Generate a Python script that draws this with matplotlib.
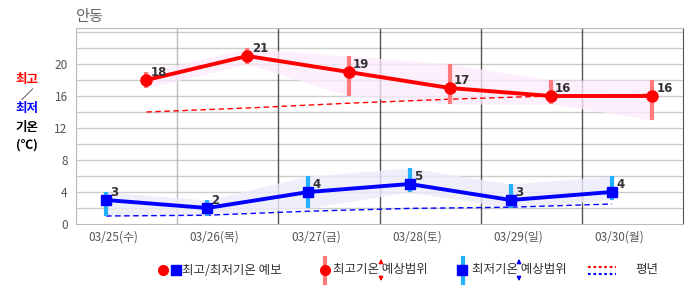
import matplotlib
matplotlib.use('Agg')
import matplotlib.pyplot as plt
import numpy as np

plt.rcParams['font.family'] = ['Noto Sans CJK KR', 'DejaVu Sans']

# 데이터
days = ['03/25(수)', '03/26(목)', '03/27(금)', '03/28(토)', '03/29(일)', '03/30(월)']
t_max = [18, 21, 19, 17, 16, 16]
t_max_lo = [17, 20, 16, 15, 15, 13]
t_max_hi = [19, 22, 21, 20, 18, 18]
t_min = [3, 2, 4, 5, 3, 4]
t_min_lo = [1, 1, 2, 4, 2, 3]
t_min_hi = [4, 3, 6, 7, 5, 6]
norm_max = [14.0, 14.5, 15.1, 15.6, 16.0, 16.2]
norm_min = [1.0, 1.1, 1.6, 1.95, 2.1, 2.5]

RED = '#ff0000'
BLUE = '#0000ff'
RED_BAR = '#ff7b7b'
BLUE_BAR = '#22b0ff'
GRAY_TXT = '#555555'

fig = plt.figure(figsize=(6.86, 2.95), dpi=100)
ax = fig.add_axes([76 / 686, 1 - 224 / 295, 607 / 686, 196 / 295])

idx = np.arange(len(days))
xr = idx + 0.695   # 최고기온 위치
xb = idx + 0.297   # 최저기온 위치

# 격자
for v in np.arange(2, 24.1, 2):
    ax.axhline(v, color='#cccccc', lw=1, zorder=0)
ax.axvline(1, color='#bbbbbb', lw=1, zorder=0)
for v in range(2, 6):
    ax.axvline(v, color='#555555', lw=1, zorder=0)

# 예상범위 음영
ax.fill_between(xr, t_max_lo, t_max_hi, color='#fdeafb', alpha=0.75, lw=0, zorder=1)
ax.fill_between(xb, t_min_lo, t_min_hi, color='#ebebfc', alpha=0.8, lw=0, zorder=1)

# 평년
ax.plot(xr, norm_max, color=RED, lw=1, ls=(0, (4, 2.5)), zorder=2)
ax.plot(xb, norm_min, color=BLUE, lw=1, ls=(0, (4, 2.5)), zorder=2)

# 예상범위 막대
ax.vlines(xr, t_max_lo, t_max_hi, color=RED_BAR, lw=3, zorder=3)
ax.vlines(xb, t_min_lo, t_min_hi, color=BLUE_BAR, lw=3, zorder=3)

# 예보선
ax.plot(xr, t_max, color=RED, lw=2.8, marker='o', ms=8, zorder=4)
ax.plot(xb, t_min, color=BLUE, lw=2.8, marker='s', ms=7.5, zorder=4)

for x, v in zip(xr, t_max):
    ax.annotate(str(v), (x, v), xytext=(3, 3), textcoords='offset points',
                fontsize=8.5, fontweight='bold', color='#333333', family='DejaVu Sans',
                zorder=5)
for x, v in zip(xb, t_min):
    ax.annotate(str(v), (x, v), xytext=(3, 3), textcoords='offset points',
                fontsize=8.5, fontweight='bold', color='#333333', family='DejaVu Sans',
                zorder=5)

ax.set_xlim(0, 6)
ax.set_ylim(0, 24.5)
ax.set_yticks([0, 4, 8, 12, 16, 20])
ax.set_xticks(idx + 0.37)
ax.set_xticklabels(days)
ax.tick_params(axis='both', length=0, labelsize=8.5, labelcolor=GRAY_TXT)
ax.tick_params(axis='y', pad=6)
ax.tick_params(axis='x', pad=5)
for s in ['top', 'left', 'bottom']:
    ax.spines[s].set_color('#bbbbbb')
ax.spines['right'].set_color('#555555')

fig.text(76 / 686, 1 - 16 / 295, '안동', fontsize=11, color='#666666', va='center', ha='left')

# 왼쪽 축 제목
lx = 27 / 686
for txt, yy, col in [('최고', 80, RED), ('／', 95, 'black'), ('최저', 109, BLUE),
                     ('기온', 128, 'black'), ('(℃)', 145, 'black')]:
    fig.text(lx, 1 - yy / 295, txt, fontsize=9, fontweight='bold', color=col,
             ha='center', va='center')

# 범례 (픽셀 좌표)
lg = fig.add_axes([0, 0, 1, 1], facecolor='none')
lg.set_xlim(0, 686)
lg.set_ylim(295, 0)
lg.axis('off')
ly = 270
lg.plot([163], [ly], marker='o', color=RED, ms=7, ls='none')
lg.plot([176], [ly], marker='s', color=BLUE, ms=6.5, ls='none')
lg.text(182, ly, '최고/최저기온 예보', fontsize=9, color='#333333', va='center')

lg.plot([325, 325], [258, 283], color=RED_BAR, lw=3)
lg.plot([325], [ly], marker='o', color=RED, ms=7, ls='none')
lg.text(333, ly, '최고기온 예상범위', fontsize=9, color='#333333', va='center')
lg.annotate('', xy=(381, 256), xytext=(381, 266),
            arrowprops=dict(arrowstyle='-|>', color=RED, lw=1, mutation_scale=6))
lg.annotate('', xy=(381, 284), xytext=(381, 274),
            arrowprops=dict(arrowstyle='-|>', color=RED, lw=1, mutation_scale=6))

lg.plot([463, 463], [258, 283], color=BLUE_BAR, lw=3)
lg.plot([462], [ly], marker='s', color=BLUE, ms=6.5, ls='none')
lg.text(472, ly, '최저기온 예상범위', fontsize=9, color='#333333', va='center')
lg.annotate('', xy=(519, 256), xytext=(519, 266),
            arrowprops=dict(arrowstyle='-|>', color=BLUE, lw=1, mutation_scale=6))
lg.annotate('', xy=(519, 284), xytext=(519, 274),
            arrowprops=dict(arrowstyle='-|>', color=BLUE, lw=1, mutation_scale=6))

lg.plot([588, 616], [267, 267], color=RED, lw=1.5, ls=(0, (1.3, 1.3)))
lg.plot([588, 616], [274, 274], color=BLUE, lw=1.5, ls=(0, (1.3, 1.3)))
lg.text(635, ly, '평년', fontsize=9, color='#333333', va='center')

fig.savefig('out.png', dpi=100)
